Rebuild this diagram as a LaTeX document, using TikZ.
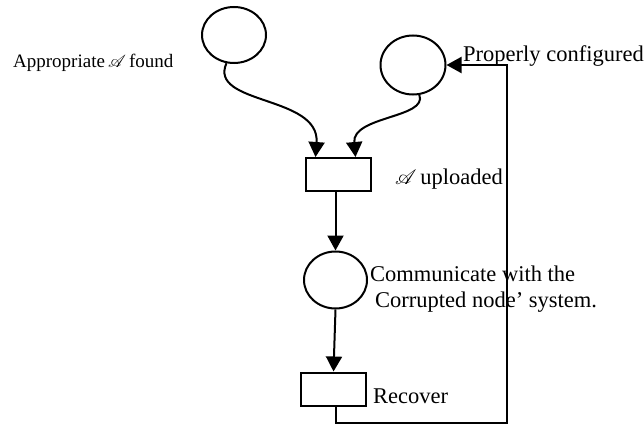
\documentclass[tikz,border=0pt]{standalone}
\usepackage{fontspec}
\usepackage{mathrsfs}
\setmainfont{Liberation Serif}
\usetikzlibrary{shapes.geometric,arrows.meta}

\tikzset{
  place/.style={draw, ellipse, line width=2pt, inner sep=0pt},
  transition/.style={draw, rectangle, line width=2pt, inner sep=0pt,
    minimum width=65pt, minimum height=33pt},
  arc/.style={line width=2pt, -{Triangle[length=15pt,width=16pt]}},
  lbl/.style={anchor=base west, inner sep=0pt, font=\fontsize{22.5}{26}\selectfont},
  smalllbl/.style={anchor=base west, inner sep=0pt, font=\fontsize{19}{22}\selectfont}
}

\begin{document}
\begin{tikzpicture}[x=1pt, y=-1pt]
  \useasboundingbox (0,0) rectangle (644,425);

  % places
  \node[place, minimum width=64pt, minimum height=56pt] (found) at (234,35) {};
  \node[place, minimum width=65pt, minimum height=59pt] (config) at (413,65) {};
  \node[place, minimum width=63pt, minimum height=57pt] (comm) at (335.5,280) {};

  % transitions
  \node[transition] (upload) at (338,174.5) {};
  \node[transition] (recover) at (333.5,389) {};

  % labels
  \node[smalllbl] (lfound) at (13,68) {Appropriate\,$\mathscr{A}$\,found};
  \node[lbl] (lconfig) at (463,62) {Properly configured};
  \node[lbl] (lupload) at (395,184) {$\mathscr{A}$\,uploaded};
  \node[lbl] (lcomm) at (370,281) {Communicate with the};
  \node[lbl] (lcomm2) at (375,307) {Corrupted node’ system.};
  \node[lbl] (lrecover) at (373,403) {Recover};

  % feedback route corner
  \coordinate (fbdown) at (507,423);

  % arcs
  \draw[arc] (found.255) .. controls (208,105) and (320,95) .. ([xshift=11pt]upload.north west);
  \draw[arc] (config.282) .. controls (428,118) and (352,116) .. ([xshift=-16pt]upload.north east);
  \draw[arc] (upload.south -| comm) -- (comm.north);
  \draw[arc] (comm.south) -- (recover.north);
  \draw[arc] ([xshift=2.5pt]recover.south) |- (fbdown) |- (config.east);
\end{tikzpicture}
\end{document}
